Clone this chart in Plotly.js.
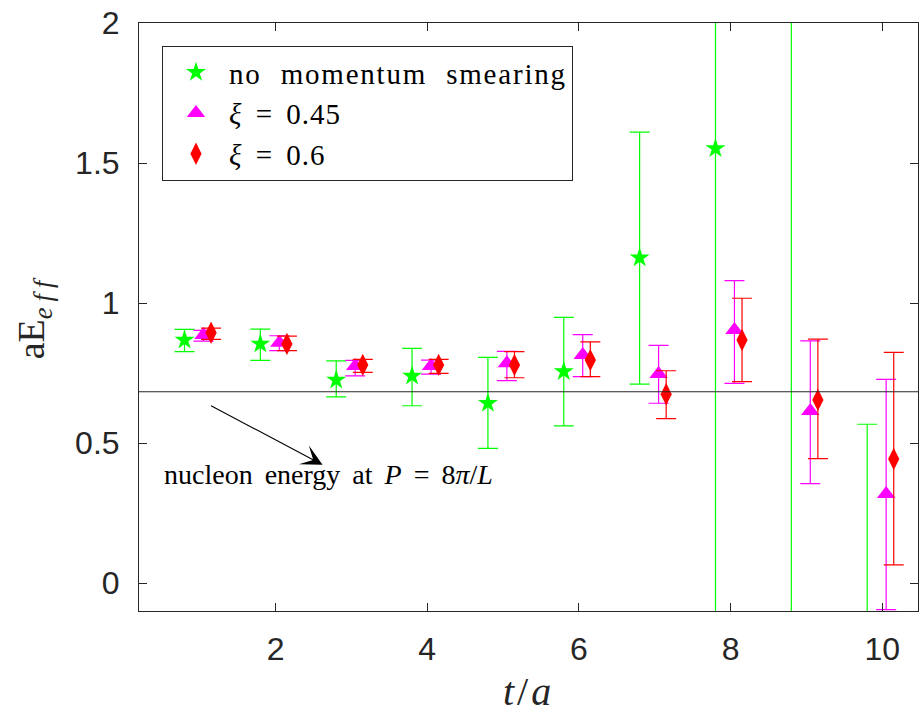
<!DOCTYPE html>
<html>
<head>
<meta charset="utf-8">
<script src="https://cdn.plot.ly/plotly-3.0.1.min.js"></script>
<style>html,body{margin:0;padding:0;background:#fff;}#plot{width:919px;height:716px;}</style>
</head>
<body>
<div id="plot"></div>
<script>
// time slices
const t = [1, 2, 3, 4, 5, 6, 7, 8, 9, 10];
// offsets used to separate the series horizontally
const offGreen = -0.2, offMagenta = 0.05, offRed = 0.15;

// no momentum smearing
const noSmearY    = [0.868, 0.854, 0.725, 0.739, 0.642, 0.755, 1.162, 1.552, 2.40, -0.40];
const noSmearErrP = [0.038, 0.053, 0.068, 0.099, 0.164, 0.194, 0.448, 1.20, 3.00, 0.967];
const noSmearErrM = [0.042, 0.059, 0.060, 0.106, 0.161, 0.194, 0.452, 2.00, 3.00, 0.967];

// xi = 0.45
const xi045Y    = [0.886, 0.858, 0.775, 0.775, 0.785, 0.814, 0.746, 0.904, 0.614, 0.318];
const xi045ErrP = [0.016, 0.025, 0.020, 0.021, 0.042, 0.073, 0.103, 0.176, 0.251, 0.409];
const xi045ErrM = [0.022, 0.028, 0.035, 0.029, 0.062, 0.077, 0.104, 0.191, 0.259, 0.413];

// xi = 0.6
const xi06Y    = [0.894, 0.854, 0.779, 0.779, 0.779, 0.796, 0.674, 0.868, 0.654, 0.443];
const xi06ErrP = [0.016, 0.028, 0.020, 0.020, 0.047, 0.065, 0.084, 0.149, 0.217, 0.381];
const xi06ErrM = [0.024, 0.024, 0.027, 0.030, 0.046, 0.059, 0.087, 0.149, 0.210, 0.378];

const nucleonEnergy = 0.683;

const xTicks = [2, 4, 6, 8, 10];
const yTicks = [0, 0.5, 1, 1.5, 2];
const yTickText = ['0', '0.5', '1', '1.5', '2'];

const shift = (arr, d) => arr.map(v => v + d);
const SERIF = 'Liberation Serif, DejaVu Serif, serif';

function series(name, x, y, ep, em, color, symbol, size) {
  return {
    type: 'scatter', mode: 'markers', name: name,
    x: x, y: y,
    marker: {color: color, symbol: symbol, size: size, line: {width: 0}},
    error_y: {type: 'data', symmetric: false, array: ep, arrayminus: em,
              color: color, thickness: 1.2, width: 10},
    cliponaxis: true
  };
}

const legStyle = 'letter-spacing:1.8px;word-spacing:10px';
const legStyle2 = 'letter-spacing:1px;word-spacing:5px';
const data = [
  series('<span style="' + legStyle + '">no momentum smearing</span>', shift(t, offGreen), noSmearY, noSmearErrP, noSmearErrM, '#00ff00', 'star', 15),
  series('<span style="' + legStyle2 + '"><i>ξ</i> = 0.45</span>', shift(t, offMagenta), xi045Y, xi045ErrP, xi045ErrM, '#ff00ff', 'triangle-up', 16),
  series('<span style="' + legStyle2 + '"><i>ξ</i> = 0.6</span>', shift(t, offRed), xi06Y, xi06ErrP, xi06ErrM, '#ff0000', 'diamond-tall', 16)
];

const axisCommon = {
  showgrid: false, zeroline: false, showline: true, mirror: 'ticks',
  linecolor: '#262626', linewidth: 1, ticks: 'inside', ticklen: 8,
  tickcolor: '#262626', tickwidth: 1,
  tickfont: {family: 'Liberation Sans, Arial, sans-serif', size: 32, color: '#262626'}
};

const layout = {
  width: 919, height: 716,
  margin: {l: 139, r: 1, t: 23, b: 105},
  paper_bgcolor: '#fff', plot_bgcolor: '#fff',
  showlegend: true,
  legend: {
    x: 0.0295, y: 0.961, xanchor: 'left', yanchor: 'top',
    bordercolor: '#262626', borderwidth: 1, bgcolor: '#fff',
    font: {family: SERIF, size: 29, color: '#000'},
    itemwidth: 56
  },
  xaxis: Object.assign({}, axisCommon, {
    range: [0.2, 10.47], tickmode: 'array', tickvals: xTicks,
    ticklabelstandoff: 10,
    title: {text: '<span style="letter-spacing:3px"><i>t</i>/<i>a</i></span>', font: {family: SERIF, size: 40, color: '#262626'}, standoff: 10}
  }),
  yaxis: Object.assign({}, axisCommon, {
    range: [-0.1, 2], tickmode: 'array', tickvals: yTicks, ticktext: yTickText,
    ticklabelstandoff: 12,
    title: {text: 'aE<sub><span style="letter-spacing:6px"><i>eff</i></span></sub>', font: {family: SERIF, size: 38, color: '#262626'}, standoff: 18}
  }),
  shapes: [{
    type: 'line', xref: 'paper', x0: 0, x1: 1, yref: 'y', y0: nucleonEnergy, y1: nucleonEnergy,
    line: {color: '#262626', width: 1.2}
  }],
  annotations: [
    {
      xref: 'x', yref: 'y', x: 2.62, y: 0.422, axref: 'x', ayref: 'y', ax: 1.13, ay: 0.636,
      text: '', showarrow: true, arrowhead: 3, arrowsize: 3.2, arrowwidth: 1.1, arrowcolor: '#000'
    },
    {
      xref: 'x', yref: 'y', x: 0.5, y: 0.386, xanchor: 'left', yanchor: 'middle',
      text: '<span style="word-spacing:5px">nucleon energy at <i>P</i> = 8<i>π</i>/<i>L</i></span>', showarrow: false,
      font: {family: SERIF, size: 28, color: '#000'}
    }
  ]
};

Plotly.newPlot('plot', data, layout, {displayModeBar: false, staticPlot: true});
</script>
</body>
</html>
